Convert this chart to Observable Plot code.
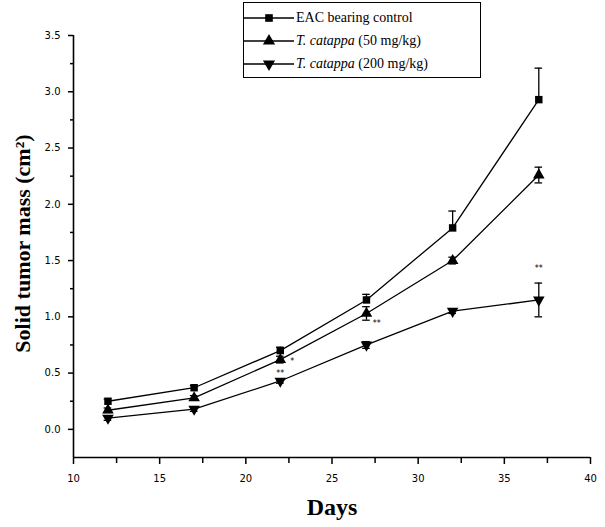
<!DOCTYPE html>
<html><head><meta charset="utf-8">
<script src="https://cdn.jsdelivr.net/npm/d3@7"></script>
<script src="https://cdn.jsdelivr.net/npm/@observablehq/plot@0.6"></script>
<style>
body{margin:0;background:#fff;}
#wrap{position:relative;width:605px;height:527px;}
#legend{position:absolute;left:243px;top:2px;width:236px;height:74px;border:1.5px solid #000;background:#fff;font-family:"Liberation Serif",serif;font-size:14px;}
.row{position:absolute;left:0;height:20px;display:flex;align-items:center;}
.row svg{display:block}
.row span{margin-left:2px;white-space:nowrap}
</style></head>
<body><div id="wrap"><div id="legend"></div></div>
<script>
const days = [12, 17, 22, 27, 32, 37];
const seriesNames = ["EAC bearing control", "T. catappa (50 mg/kg)", "T. catappa (200 mg/kg)"];
const eacValues = [0.25, 0.37, 0.70, 1.15, 1.79, 2.93];
const eacErrUp = [0.02, 0.02, 0.03, 0.05, 0.15, 0.28];
const eacErrDown = [0, 0, 0, 0, 0, 0];
const low50Values = [0.17, 0.28, 0.62, 1.03, 1.50, 2.26];
const low50Err = [0.02, 0.02, 0.03, 0.06, 0.03, 0.07];
const high200Values = [0.10, 0.18, 0.43, 0.75, 1.05, 1.15];
const high200Err = [0.02, 0.02, 0.02, 0.03, 0.02, 0.15];
const xTicks = [10, 15, 20, 25, 30, 35, 40];
const xMinor = [12.5, 17.5, 22.5, 27.5, 32.5, 37.5];
const yTicks = [0, 0.5, 1.0, 1.5, 2.0, 2.5, 3.0, 3.5];
const yMinor = [0.25, 0.75, 1.25, 1.75, 2.25, 2.75, 3.25];
const annoDays = [37, 27.6, 22, 22.7];
const annoValues = [1.43, 0.94, 0.50, 0.60];
const annoText = ["**", "**", "**", "*"];

const triDown = {draw(ctx, size){const y = -Math.sqrt(size/(Math.sqrt(3)*3)); const s = Math.sqrt(3);
  ctx.moveTo(0, -y*2); ctx.lineTo(-s*y, y); ctx.lineTo(s*y, y); ctx.closePath();}};
const symbols = ["square", "triangle", triDown];

const seriesDefs = [
  {name: seriesNames[0], v: eacValues, up: eacErrUp, down: eacErrDown},
  {name: seriesNames[1], v: low50Values, up: low50Err, down: low50Err},
  {name: seriesNames[2], v: high200Values, up: high200Err, down: high200Err}
];
const data = seriesDefs.flatMap((s, i) => days.map((d, j) => ({
  series: s.name, idx: i, day: d, v: s.v[j], hi: s.v[j] + s.up[j], lo: s.v[j] - s.down[j]
})));
const anno = annoDays.map((d, i) => ({day: d, v: annoValues[i], t: annoText[i]}));

const chart = Plot.plot({
  width: 605, height: 527,
  marginLeft: 73, marginRight: 15, marginTop: 35, marginBottom: 70,
  style: {fontFamily: "DejaVu Sans", fontSize: "10px", color: "#000", background: "#fff"},
  x: {domain: [10, 40]},
  y: {domain: [-0.25, 3.5]},
  marks: [
    Plot.axisX({ticks: xTicks, tickSize: 7, tickPadding: 10, tickFormat: d => String(d), label: null, strokeWidth: 1.5}),
    Plot.axisX({ticks: xMinor, tickSize: 6, text: null, label: null, strokeWidth: 1.5}),
    Plot.axisY({ticks: yTicks, tickSize: 5, tickPadding: 8, tickFormat: d3.format(".1f"), label: null, strokeWidth: 1.5}),
    Plot.axisY({ticks: yMinor, tickSize: 3, text: null, label: null, strokeWidth: 1.5}),
    Plot.ruleX([10], {stroke: "#000", strokeWidth: 1.6}),
    Plot.ruleY([-0.25], {stroke: "#000", strokeWidth: 1.6}),
    Plot.line(data, {x: "day", y: "v", z: "series", stroke: "#000", strokeWidth: 1.3}),
    Plot.ruleX(data, {x: "day", y1: "lo", y2: "hi", stroke: "#000", strokeWidth: 1.3}),
    Plot.ruleY(data.filter(d => d.hi > d.v), {y: "hi", x1: d => d.day - 0.22, x2: d => d.day + 0.22, stroke: "#000", strokeWidth: 1.3}),
    Plot.ruleY(data.filter(d => d.lo < d.v), {y: "lo", x1: d => d.day - 0.22, x2: d => d.day + 0.22, stroke: "#000", strokeWidth: 1.3}),
    ...symbols.map((sym, i) => Plot.dot(data.filter(d => d.idx === i), {x: "day", y: "v", symbol: () => sym, fill: "#000", stroke: "none", r: i === 0 ? 4.2 : 4.3})),
    Plot.text(anno, {x: "day", y: "v", text: "t", fontSize: 8, fill: "#000"}),
    Plot.text(["Solid tumor mass (cm²)"], {frameAnchor: "left", textAnchor: "middle", rotate: -90, dx: -51, dy: -3, fontFamily: "Liberation Serif", fontWeight: "bold", fontSize: 22, fill: "#000"}),
    Plot.text(["Days"], {frameAnchor: "bottom", dy: 57, dx: 0, fontFamily: "Liberation Serif", fontWeight: "bold", fontSize: 24, fill: "#000"})
  ]
});
document.getElementById("wrap").prepend(chart);

const legend = document.getElementById("legend");
const rowsY = [5, 28, 51];
seriesNames.forEach((name, i) => {
  const row = document.createElement("div");
  row.className = "row";
  row.style.top = rowsY[i] + "px";
  const svg = d3.create("svg").attr("width", 50).attr("height", 20);
  svg.append("line").attr("x1", 0).attr("x2", 50).attr("y1", 10).attr("y2", 10).attr("stroke", "#000").attr("stroke-width", 1.5);
  const sym = typeof symbols[i] === "string" ? (symbols[i] === "square" ? d3.symbolSquare : d3.symbolTriangle) : symbols[i];
  svg.append("path").attr("d", d3.symbol(sym, i === 0 ? 58 : 64)()).attr("transform", "translate(25,10)").attr("fill", "#000");
  row.appendChild(svg.node());
  const span = document.createElement("span");
  if (i === 0) span.textContent = name;
  else {
    const it = document.createElement("i");
    it.textContent = "T. catappa";
    span.appendChild(it);
    span.appendChild(document.createTextNode(name.slice("T. catappa".length)));
  }
  row.appendChild(span);
  legend.appendChild(row);
});
const svgEl = document.querySelector("#wrap > svg");
svgEl.style.position = "absolute"; svgEl.style.left = "0"; svgEl.style.top = "0";
</script>
</body></html>
